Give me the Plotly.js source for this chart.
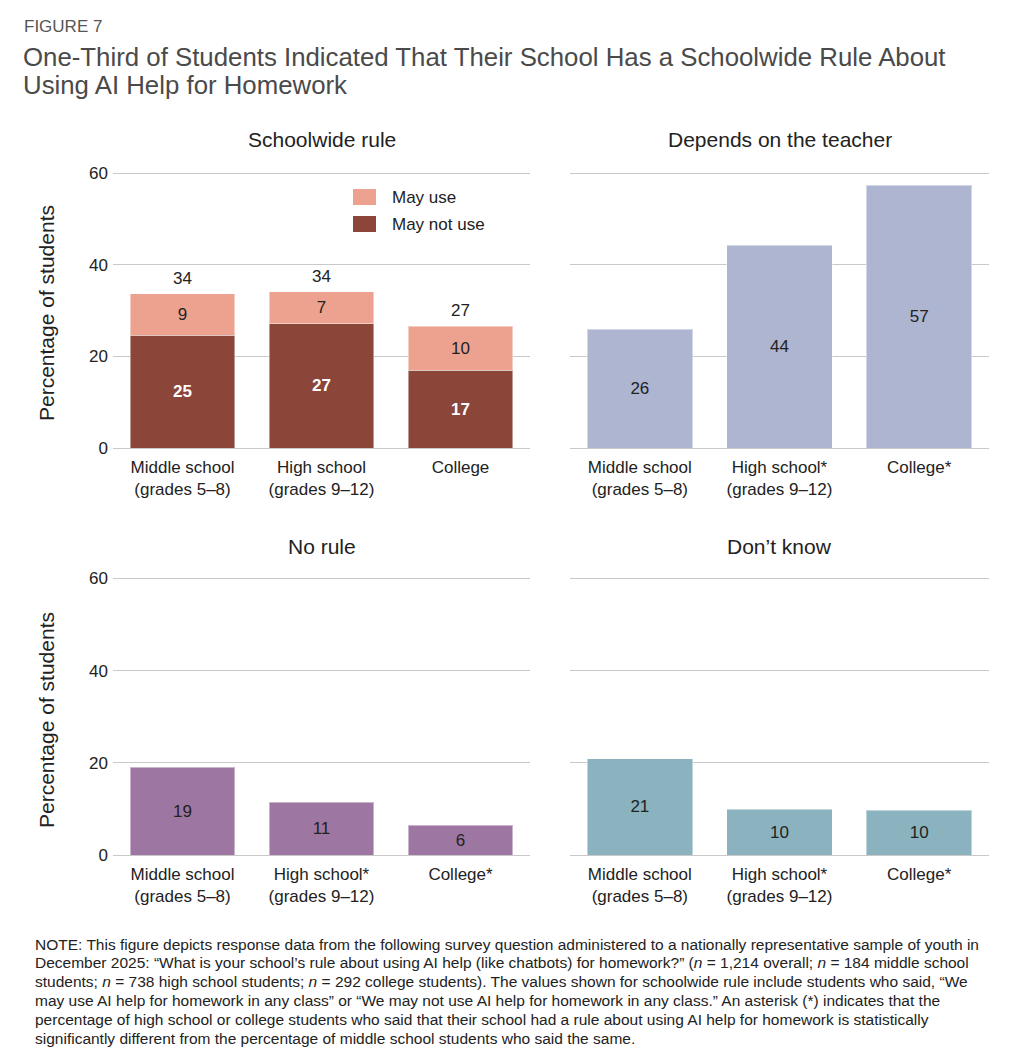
<!DOCTYPE html>
<html>
<head>
<meta charset="utf-8">
<script src="https://cdn.plot.ly/plotly-3.0.1.min.js"></script>
<style>html,body{margin:0;padding:0;background:#fff;}#chart{width:1019px;height:1064px;}</style>
</head>
<body>
<div id="chart"></div>
<script>
// ---- Data ----
const catsRule = ["Middle school<br>(grades 5–8)", "High school<br>(grades 9–12)", "College"];
const catsOther = ["Middle school<br>(grades 5–8)", "High school*<br>(grades 9–12)", "College*"];
const mayNotUse = [24.6, 27.2, 17.0];
const mayUse = [9.1, 6.9, 9.6];
const ruleTotals = [33.7, 34.1, 26.6];
const dependsTeacher = [25.9, 44.3, 57.4];
const noRule = [19.0, 11.4, 6.4];
const dontKnow = [20.9, 9.9, 9.7];
const yTicks = [0, 20, 40, 60];
const panelTitles = ["Schoolwide rule", "Depends on the teacher", "No rule", "Don’t know"];
const legendNames = ["May use", "May not use"];
const colMayUse = "#EDA290", colMayNot = "#8B4539";

const FONT = "Liberation Sans, Arial, Helvetica, sans-serif";
const TXT = "#222222";
const barLine = {color: "rgba(255,255,255,0.45)", width: 1};

function barTrace(x, y, color, name, xa, ya, textColor, bold) {
  return {
    type: "bar", x: x, y: y, name: name, xaxis: xa, yaxis: ya,
    marker: {color: color, line: barLine},
    text: y.map(v => Math.round(v).toString()),
    textposition: "inside", insidetextanchor: "middle",
    textangle: 0, constraintext: "none",
    insidetextfont: {family: FONT, size: 17, color: textColor, weight: bold ? "bold" : "normal"},
    hoverinfo: "skip", showlegend: false
  };
}

const traces = [
  barTrace(catsRule, mayNotUse, colMayNot, legendNames[1], "x", "y", "#ffffff", true),
  barTrace(catsRule, mayUse, colMayUse, legendNames[0], "x", "y", TXT, false),
  barTrace(catsOther, dependsTeacher, "#ADB5D0", "Depends on the teacher", "x2", "y2", TXT, false),
  barTrace(catsOther, noRule, "#9E76A2", "No rule", "x3", "y3", TXT, false),
  barTrace(catsOther, dontKnow, "#8AB3BF", "Don’t know", "x4", "y4", TXT, false)
];

const W = 1019, H = 1064;
const px = v => v / W;
const py = v => 1 - v / H;

const xDomL = [px(113), px(530)];
const xDomR = [px(570), px(989)];
const yDomT = [py(448), py(172)];
const yDomB = [py(855), py(577)];

function xaxis(domain, anchor) {
  return {
    domain: domain, anchor: anchor, showgrid: false, zeroline: false,
    showline: false, ticks: "", fixedrange: true, ticklabelstandoff: 7,
    tickfont: {family: FONT, size: 17, color: TXT}
  };
}
function yaxis(domain, anchor, showLabels) {
  return {
    domain: domain, anchor: anchor, range: [0, 60.3], tickvals: yTicks,
    showgrid: true, gridcolor: "#c9c9c9", gridwidth: 1,
    zeroline: true, zerolinecolor: "#c9c9c9", zerolinewidth: 1,
    showline: false, ticks: "", showticklabels: showLabels, fixedrange: true,
    tickfont: {family: FONT, size: 17, color: TXT}, ticklabelstandoff: 4
  };
}

const noteLines = [
  "NOTE: This figure depicts response data from the following survey question administered to a nationally representative sample of youth in",
  "December 2025: “What is your school’s rule about using AI help (like chatbots) for homework?” (<i>n</i> = 1,214 overall; <i>n</i> = 184 middle school",
  "students; <i>n</i> = 738 high school students; <i>n</i> = 292 college students). The values shown for schoolwide rule include students who said, “We",
  "may use AI help for homework in any class” or “We may not use AI help for homework in any class.” An asterisk (*) indicates that the",
  "percentage of high school or college students who said that their school had a rule about using AI help for homework is statistically",
  "significantly different from the percentage of middle school students who said the same."
];
const titleLines = [
  "One-Third of Students Indicated That Their School Has a Schoolwide Rule About",
  "Using AI Help for Homework"
];

function ann(text, x, y, size, color, xanchor, extra) {
  return Object.assign({text: text, xref: "paper", yref: "paper", x: x, y: y,
    xanchor: xanchor || "center", yanchor: "middle", showarrow: false,
    font: {family: FONT, size: size, color: color || TXT}}, extra || {});
}

const annotations = [
  ann("FIGURE 7", px(22), py(27), 17, "#555555", "left"),
  ann(titleLines[0], px(21), py(57), 25.8, "#4a4a4a", "left"),
  ann(titleLines[1], px(21), py(85), 25.8, "#4a4a4a", "left"),
  ann(panelTitles[0], (xDomL[0] + xDomL[1]) / 2, py(140), 21),
  ann(panelTitles[1], (xDomR[0] + xDomR[1]) / 2, py(140), 21),
  ann(panelTitles[2], (xDomL[0] + xDomL[1]) / 2, py(546), 21),
  ann(panelTitles[3], (xDomR[0] + xDomR[1]) / 2, py(546), 21),
  ann("Percentage of students", px(46), py(313), 21, TXT, "center", {textangle: -90}),
  ann("Percentage of students", px(46), py(720), 21, TXT, "center", {textangle: -90}),
  ann(legendNames[0], px(390), py(197), 17, TXT, "left"),
  ann(legendNames[1], px(390), py(224), 17, TXT, "left")
];
noteLines.forEach((t, i) => annotations.push(ann(t, px(33), py(944 + i * 18.9), 15.5, TXT, "left")));
// Totals above the stacked bars
catsRule.forEach((c, i) => annotations.push({
  text: Math.round(ruleTotals[i]).toString(), x: c, y: ruleTotals[i], xref: "x", yref: "y",
  xanchor: "center", yanchor: "bottom", yshift: 4, showarrow: false,
  font: {family: FONT, size: 17, color: TXT}
}));

const shapes = [
  {type: "rect", xref: "paper", yref: "paper", x0: px(353), x1: px(376), y0: py(205), y1: py(189),
   fillcolor: colMayUse, line: {width: 0}},
  {type: "rect", xref: "paper", yref: "paper", x0: px(353), x1: px(376), y0: py(232), y1: py(216),
   fillcolor: colMayNot, line: {width: 0}}
];

const layout = {
  width: W, height: H,
  margin: {l: 0, r: 0, t: 0, b: 0},
  paper_bgcolor: "#ffffff", plot_bgcolor: "#ffffff",
  font: {family: FONT, color: TXT},
  barmode: "stack", bargap: 0.245,
  showlegend: false,
  xaxis: xaxis(xDomL, "y"), yaxis: yaxis(yDomT, "x", true),
  xaxis2: xaxis(xDomR, "y2"), yaxis2: yaxis(yDomT, "x2", false),
  xaxis3: xaxis(xDomL, "y3"), yaxis3: yaxis(yDomB, "x3", true),
  xaxis4: xaxis(xDomR, "y4"), yaxis4: yaxis(yDomB, "x4", false),
  annotations: annotations,
  shapes: shapes
};

Plotly.newPlot("chart", traces, layout, {displayModeBar: false, staticPlot: true});
</script>
</body>
</html>
